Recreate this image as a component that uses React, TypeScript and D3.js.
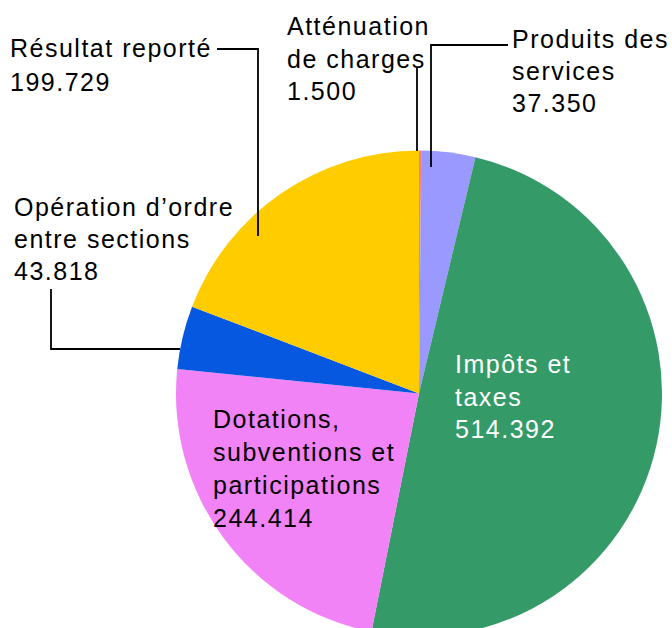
import React from "react";
import * as d3 from "d3";

const categories = [
  "Atténuation de charges",
  "Produits des services",
  "Impôts et taxes",
  "Dotations, subventions et participations",
  "Opération d’ordre entre sections",
  "Résultat reporté",
];
const values = [1.5, 37.35, 514.392, 244.414, 43.818, 199.729];
const valueLabels = ["1.500", "37.350", "514.392", "244.414", "43.818", "199.729"];
const labelLines = [
  ["Atténuation", "de charges"],
  ["Produits des", "services"],
  ["Impôts et", "taxes"],
  ["Dotations,", "subventions et", "participations"],
  ["Opération d’ordre", "entre sections"],
  ["Résultat reporté"],
];
const colors = ["#F48080", "#9999FF", "#349A68", "#F283F7", "#0658E0", "#FFCC00"];

// layout (positions of label text blocks, first baseline)
const labelPos = [
  { x: 287, y: 35, fill: "#000" },
  { x: 512, y: 48, fill: "#000" },
  { x: 455, y: 373, fill: "#fff" },
  { x: 213, y: 428, fill: "#000" },
  { x: 14, y: 216, fill: "#000" },
  { x: 10, y: 57, fill: "#000" },
];
const lineHeights = [32.5, 32, 32.5, 33, 32, 34];
const leaders: [number, number][][] = [
  [[417, 68], [417, 151]],
  [[508, 45], [431, 45], [431, 167]],
  [],
  [],
  [[51, 289], [51, 349], [180, 349]],
  [[217, 49], [258, 49], [258, 236]],
];

const W = 672;
const H = 628;
const cx = 419;
const cy = 393.5;
const R = 243;

export default function App() {
  const pie = d3
    .pie<number>()
    .sort(null)
    .startAngle(0)
    .endAngle(2 * Math.PI)
    .value((d) => d);
  const arcs = pie(values);
  const arc = d3.arc<d3.PieArcDatum<number>>().innerRadius(0).outerRadius(R);
  const line = d3.line();

  return (
    <svg
      width={W}
      height={H}
      style={{ position: "absolute", left: 0, top: 0, background: "#fff" }}
      fontFamily="'Liberation Sans', Arial, sans-serif"
    >
      <g transform={`translate(${cx},${cy})`}>
        {arcs.map((a, i) => (
          <path key={categories[i]} d={arc(a) || ""} fill={colors[i]} />
        ))}
      </g>
      {leaders.map((pts, i) =>
        pts.length ? (
          <path key={"l" + i} d={line(pts) || ""} fill="none" stroke="#000" strokeWidth={1.8} />
        ) : null
      )}
      {labelLines.map((lines, i) => {
        const all = [...lines, valueLabels[i]];
        return (
          <text
            key={"t" + i}
            x={labelPos[i].x}
            y={labelPos[i].y}
            fill={labelPos[i].fill}
            fontSize={25}
            letterSpacing={1.5}
          >
            {all.map((s, j) => (
              <tspan key={j} x={labelPos[i].x} y={labelPos[i].y + j * lineHeights[i]}>
                {s}
              </tspan>
            ))}
          </text>
        );
      })}
    </svg>
  );
}
